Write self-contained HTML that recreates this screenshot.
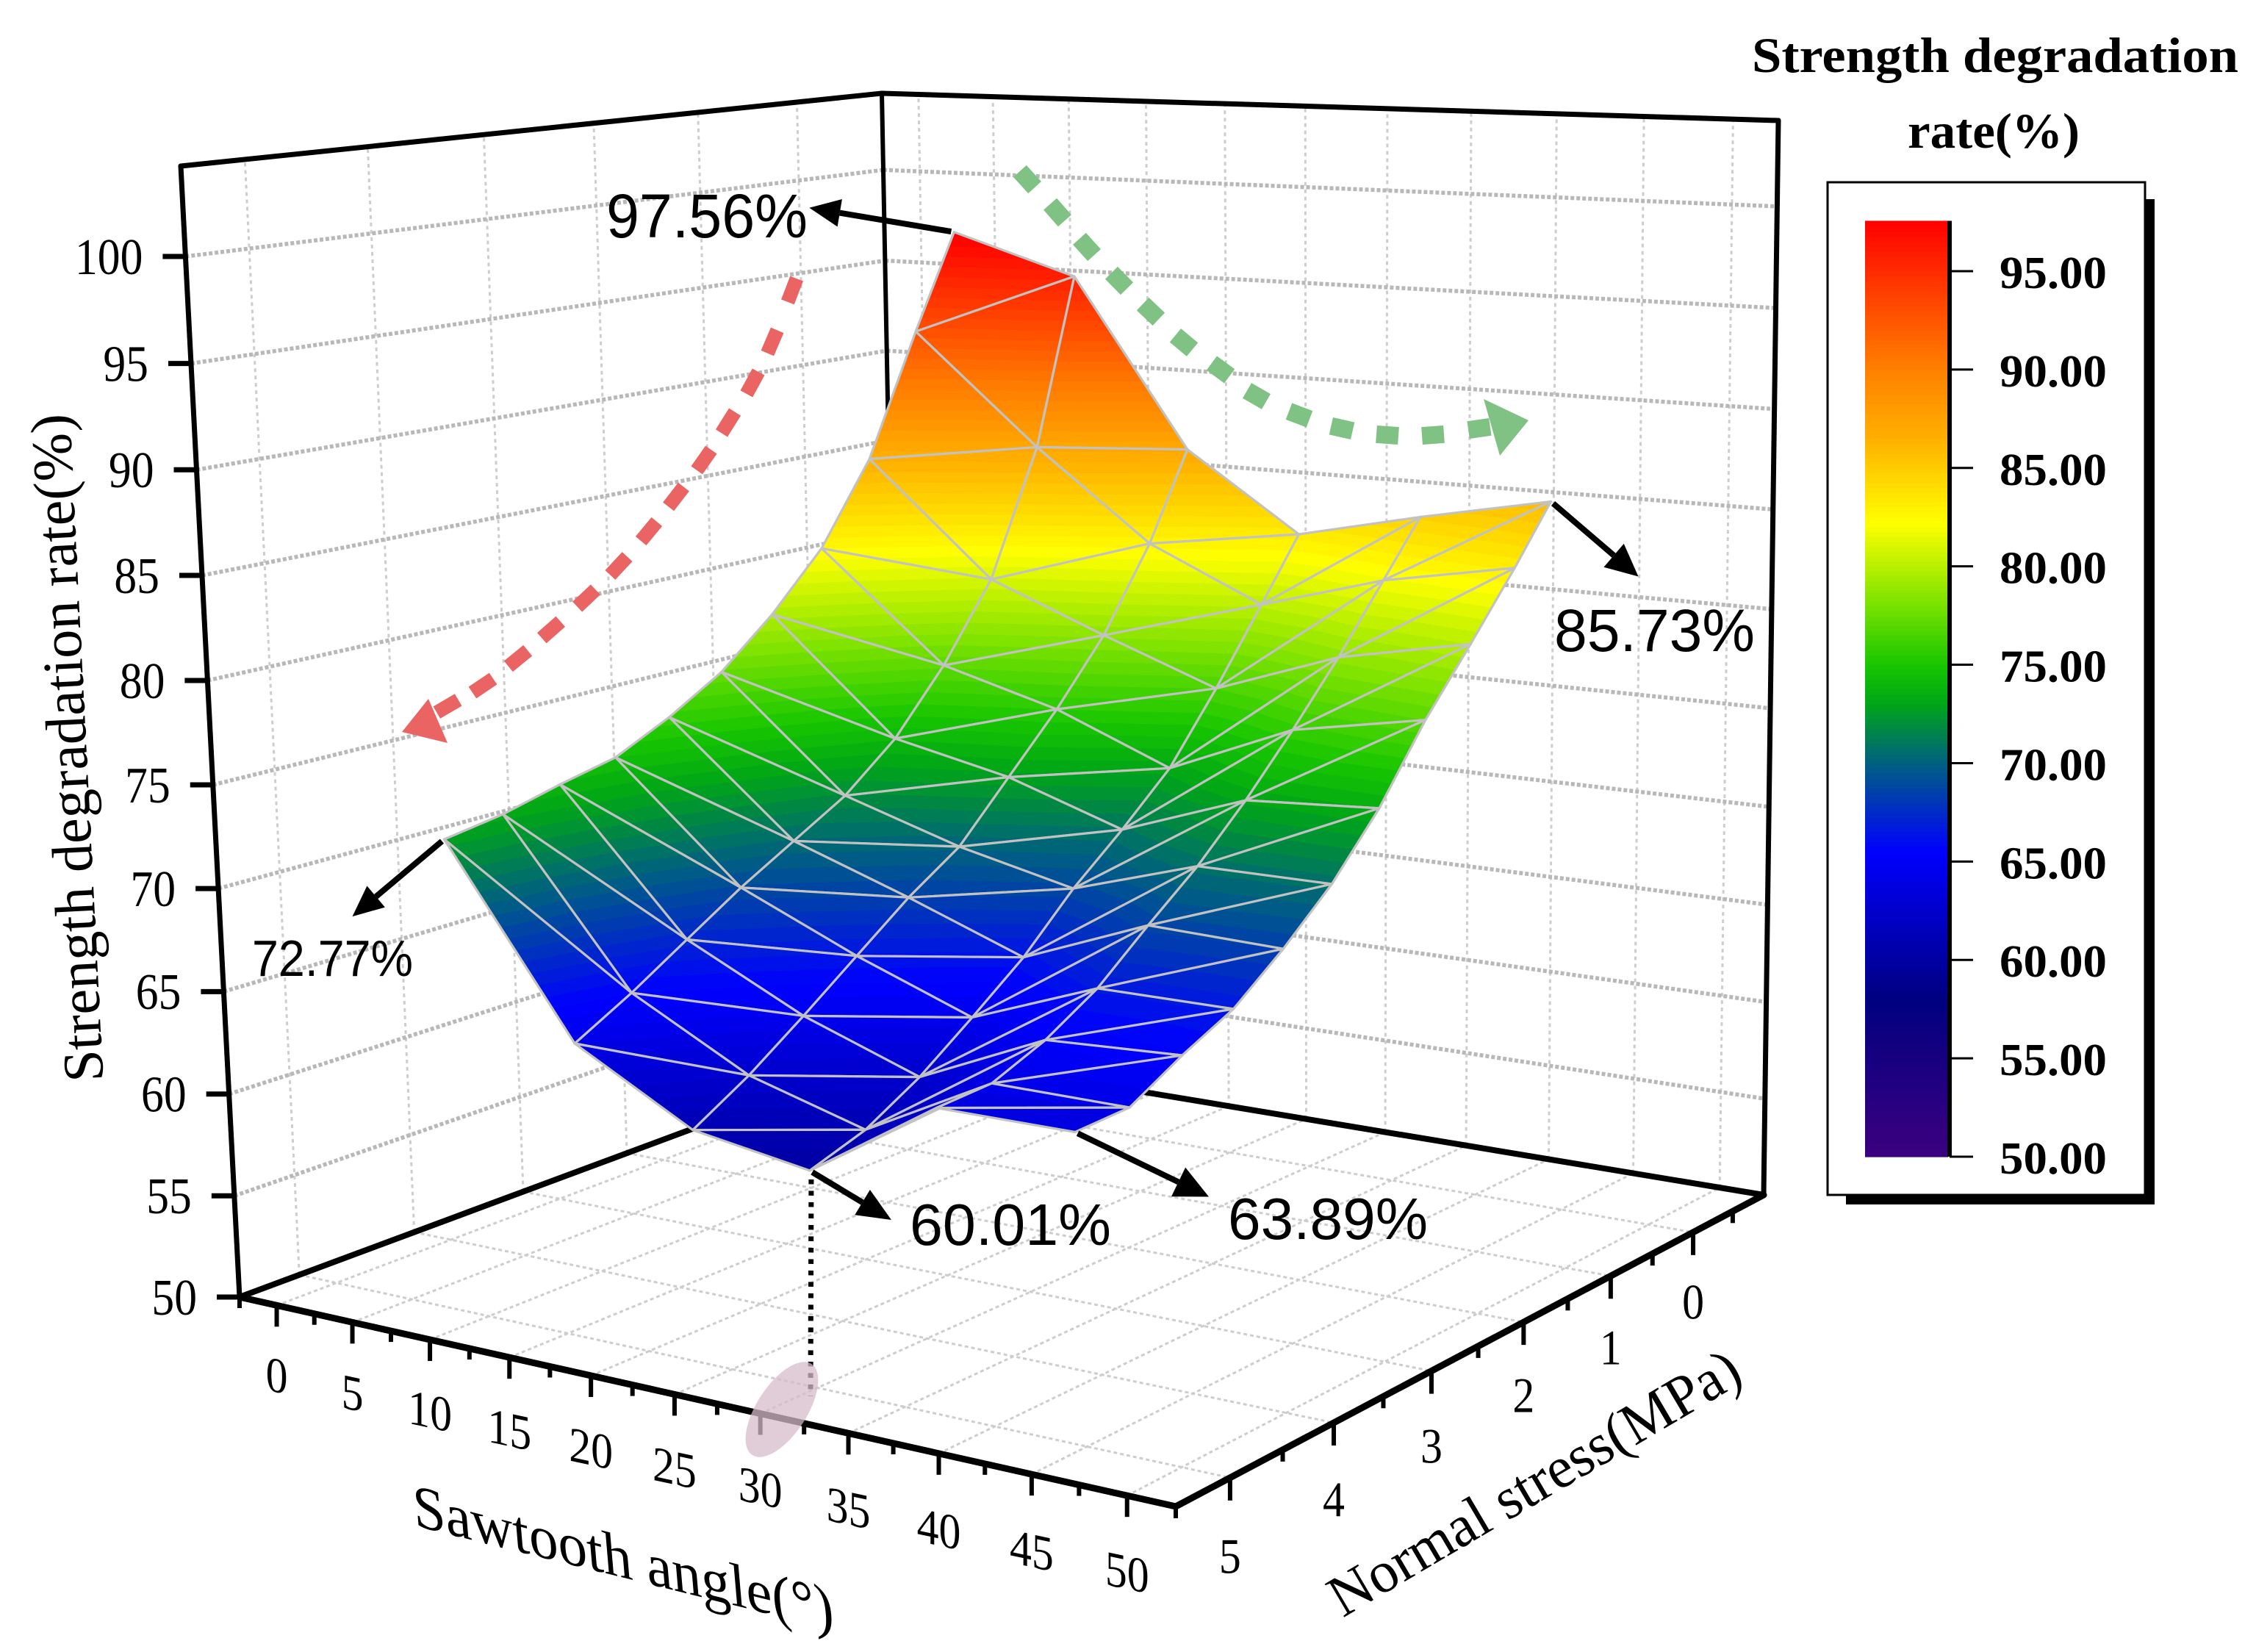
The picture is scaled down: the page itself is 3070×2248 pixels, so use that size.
<!DOCTYPE html>
<html lang="en">
<head>
<meta charset="utf-8">
<title>Strength degradation rate surface</title>
<style>
html,body{margin:0;padding:0;background:#fff;width:3070px;height:2248px;overflow:hidden}
svg{display:block}
text{font-family:"Liberation Serif",serif;fill:#000}
.anno{font-family:"Liberation Sans",sans-serif}
</style>
</head>
<body>
<svg id="chart" xmlns="http://www.w3.org/2000/svg" width="3070" height="2248" viewBox="0 0 3070 2248">
  <rect x="0" y="0" width="3070" height="2248" fill="#fff"/>
  <g id="floorGrid"></g>
  <g id="wallGrid"></g>
  <g id="box"></g>
  <g id="ticks"></g>
  <g id="surface"></g>
  <g id="annotations"></g>

  <text transform="translate(91,1018) rotate(-92.9)" text-anchor="middle" dominant-baseline="central" font-size="78" textLength="910" lengthAdjust="spacingAndGlyphs">Strength degradation rate(%)</text>
  <text transform="translate(848,2120) skewY(14) skewX(5)" text-anchor="middle" dominant-baseline="central" font-size="82" textLength="572" lengthAdjust="spacingAndGlyphs">Sawtooth angle(°)</text>
  <text transform="translate(2088,2018) rotate(-30.5)" text-anchor="middle" dominant-baseline="central" font-size="80" textLength="636" lengthAdjust="spacingAndGlyphs">Normal stress(MPa)</text>

  <text class="anno" x="825" y="323" font-size="84" textLength="274" lengthAdjust="spacingAndGlyphs">97.56%</text>
  <text class="anno" x="2115" y="886" font-size="82" textLength="273" lengthAdjust="spacingAndGlyphs">85.73%</text>
  <text class="anno" x="343" y="1328" font-size="70" textLength="219" lengthAdjust="spacingAndGlyphs">72.77%</text>
  <text class="anno" x="1238" y="1694" font-size="80" textLength="274" lengthAdjust="spacingAndGlyphs">60.01%</text>
  <text class="anno" x="1671" y="1686" font-size="80" textLength="272" lengthAdjust="spacingAndGlyphs">63.89%</text>

  <text x="2384" y="98" font-size="68" font-weight="bold" textLength="662" lengthAdjust="spacingAndGlyphs">Strength degradation</text>
  <text x="2596" y="201" font-size="68" font-weight="bold" textLength="234" lengthAdjust="spacingAndGlyphs">rate(%)</text>
  <rect x="2512" y="271" width="420" height="1368" fill="#000"/>
  <rect x="2487" y="248" width="432" height="1378" fill="#fff" stroke="#000" stroke-width="3"/>
  <g id="colorbar"></g>
</svg>
<script>
/* ---------- chart data ---------- */
const angleColumns = [8.3, 16, 23, 29.8, 37, 44.5];
const stressRows = [0.08, 0.5, 1, 1.5, 2, 2.5, 3, 3.5, 4, 4.5, 5];
const ratesAngle0 = [97.7, 92.8, 86.6, 82.5, 79.7, 77.4, 75.8, 74.5, 73.9, 73.2, 72.77];
const ratesAngle1 = [95.7, 87.2, 80.9, 77.1, 74.05, 71.9, 70.4, 68.9, 67.2, 65.5, 64.0];
const ratesAngle2 = [87.1, 82.7, 78.6, 75.5, 72.8, 70.1, 68.4, 66.4, 64.4, 62.5, 60.9];
const ratesAngle3 = [83.2, 80.1, 76.5, 73.2, 70.9, 68.8, 66.3, 64.3, 62.4, 60.9, 60.01];
const ratesAngle4 = [84.6, 81.9, 78.7, 75.8, 73.1, 70.7, 68.7, 66.6, 65.1, 64.05, 63.9];
const ratesAngle5 = [85.9, 83.1, 80.0, 77.0, 73.5, 70.7, 68.5, 66.6, 65.4, 64.0, 63.89];
const rateSeries = [ratesAngle0, ratesAngle1, ratesAngle2, ratesAngle3, ratesAngle4, ratesAngle5];
const angleTicks = [0, 5, 10, 15, 20, 25, 30, 35, 40, 45, 50];
const stressTicks = [0, 1, 2, 3, 4, 5];
const rateTicks = [50, 55, 60, 65, 70, 75, 80, 85, 90, 95, 100];
const legendTicks = [50, 55, 60, 65, 70, 75, 80, 85, 90, 95];
const colorValues = [50, 58, 65.5, 70, 73, 75, 78, 82.2, 86.5, 90, 97.56];
const colorReds = [60, 0, 0, 0, 0, 24, 120, 255, 255, 255, 255];
const colorGreens = [0, 0, 0, 96, 165, 198, 225, 255, 176, 128, 0];
const colorBlues = [128, 128, 255, 128, 24, 0, 0, 0, 0, 0, 0];

/* ---------- axis functions ---------- */
const angleMin = -2.5, angleMax = 52.5, stressMin = -0.9, stressMax = 5.5, rateMin = 50, rateMax = 104.2;
const PERSPECTIVE_K = 0.967;
const NS = 'http://www.w3.org/2000/svg';

function homography(p00, p10, p11, p01) {
  const dx1 = p10[0] - p11[0], dx2 = p01[0] - p11[0], sx = p00[0] - p10[0] + p11[0] - p01[0];
  const dy1 = p10[1] - p11[1], dy2 = p01[1] - p11[1], sy = p00[1] - p10[1] + p11[1] - p01[1];
  const den = dx1 * dy2 - dx2 * dy1;
  const g = (sx * dy2 - dx2 * sy) / den, h = (dx1 * sy - sx * dy1) / den;
  const a = p10[0] - p00[0] + g * p10[0], b = p01[0] - p00[0] + h * p01[0], c = p00[0];
  const d = p10[1] - p00[1] + g * p10[1], e = p01[1] - p00[1] + h * p01[1], f = p00[1];
  return function (X, Y) {
    const w = g * X + h * Y + 1;
    return [(a * X + b * Y + c) / w, (d * X + e * Y + f) / w];
  };
}
const floorMap = homography([1225, 1431], [2400, 1626], [1600, 2050], [326, 1765]);
const topMap = homography([1200, 127], [2420, 164], [1592, 285], [246, 226]);

function rateFraction(z) {
  const t = (z - rateMin) / (rateMax - rateMin);
  return t * PERSPECTIVE_K / ((1 - t) + t * PERSPECTIVE_K);
}
function project(angle, stress, rate) {
  const X = (angle - angleMin) / (angleMax - angleMin);
  const Y = (stress - stressMin) / (stressMax - stressMin);
  const p0 = floorMap(X, Y), p1 = topMap(X, Y), w = rateFraction(rate);
  return [p0[0] + (p1[0] - p0[0]) * w, p0[1] + (p1[1] - p0[1]) * w];
}
function depthOf(angle, stress) {
  const X = (angle - angleMin) / (angleMax - angleMin);
  const Y = (stress - stressMin) / (stressMax - stressMin);
  return 0.1125 * X + 0.1484 * Y;
}
function rateColor(v) {
  let i = 0;
  if (v <= colorValues[0]) return 'rgb(' + colorReds[0] + ',' + colorGreens[0] + ',' + colorBlues[0] + ')';
  while (i < colorValues.length - 2 && v > colorValues[i + 1]) i++;
  const t = Math.min(1, (v - colorValues[i]) / (colorValues[i + 1] - colorValues[i]));
  const r = Math.round(colorReds[i] + (colorReds[i + 1] - colorReds[i]) * t);
  const g = Math.round(colorGreens[i] + (colorGreens[i + 1] - colorGreens[i]) * t);
  const b = Math.round(colorBlues[i] + (colorBlues[i + 1] - colorBlues[i]) * t);
  return 'rgb(' + r + ',' + g + ',' + b + ')';
}
function legendY(v) { return 1574 - (v - 50) * (1574 - 369) / 45; }

function make(tag, attrs) {
  const el = document.createElementNS(NS, tag);
  for (const k in attrs) el.setAttribute(k, attrs[k]);
  return el;
}
function seg(parent, p, q, stroke, width, dash) {
  const attrs = { x1: p[0], y1: p[1], x2: q[0], y2: q[1], stroke: stroke, 'stroke-width': width };
  if (dash) attrs['stroke-dasharray'] = dash;
  const el = make('line', attrs);
  parent.appendChild(el);
  return el;
}

/* ---------- grids ---------- */
const floorGrid = document.getElementById('floorGrid');
const wallGrid = document.getElementById('wallGrid');
angleTicks.forEach(function (a) {
  const f = seg(floorGrid, project(a, stressMax, rateMin), project(a, stressMin, rateMin), '#cdcdcd', 3, '5 4');
  
  
  const w = seg(wallGrid, project(a, stressMin, rateMin), project(a, stressMin, rateMax), '#cdcdcd', 3, '5 5');
  
  
});
stressTicks.forEach(function (s) {
  const f = seg(floorGrid, project(angleMin, s, rateMin), project(angleMax, s, rateMin), '#cdcdcd', 3, '5 4');
  
  
  const w = seg(wallGrid, project(angleMin, s, rateMin), project(angleMin, s, rateMax), '#cdcdcd', 3, '5 5');
  
  
});
rateTicks.forEach(function (z) {
  if (z === rateMin) return;
  const l = seg(wallGrid, project(angleMin, stressMax, z), project(angleMin, stressMin, z), '#b8b8b8', 5.5, '5 3');
  
  
  const b = seg(wallGrid, project(angleMin, stressMin, z), project(angleMax, stressMin, z), '#b8b8b8', 5.5, '5 3');
  
  
});

/* ---------- box ---------- */
const box = document.getElementById('box');
function boxEdge(a1, s1, z1, a2, s2, z2, width, name) {
  const el = seg(box, project(a1, s1, z1), project(a2, s2, z2), '#000', width);
  el.setAttribute('stroke-linecap', 'round');
  
  
}
boxEdge(angleMin, stressMax, rateMin, angleMin, stressMin, rateMin, 8, 'floor-edge-left');
boxEdge(angleMin, stressMin, rateMin, angleMax, stressMin, rateMin, 8, 'floor-edge-back');
boxEdge(angleMin, stressMin, rateMin, angleMin, stressMin, rateMax, 6, 'back-corner-edge');
boxEdge(angleMin, stressMax, rateMin, angleMin, stressMax, rateMax, 7, 'z-axis-line');
boxEdge(angleMax, stressMin, rateMin, angleMax, stressMin, rateMax, 7, 'right-wall-edge');
boxEdge(angleMin, stressMax, rateMax, angleMin, stressMin, rateMax, 7, 'top-edge-left');
boxEdge(angleMin, stressMin, rateMax, angleMax, stressMin, rateMax, 7, 'top-edge-back');
boxEdge(angleMin, stressMax, rateMin, angleMax, stressMax, rateMin, 9, 'x-axis-line');
boxEdge(angleMax, stressMax, rateMin, angleMax, stressMin, rateMin, 9, 'y-axis-line');

/* ---------- ticks and tick labels ---------- */
const ticksG = document.getElementById('ticks');
function tickLabel(txt, x, y, size, anchor, extra) {
  const t = make('text', { 'font-size': size, 'text-anchor': anchor, 'dominant-baseline': 'central' });
  t.setAttribute('transform', 'translate(' + x + ',' + y + ')' + (extra || ''));
  t.textContent = txt;
  ticksG.appendChild(t);
  return t;
}
rateTicks.forEach(function (z) {
  const p = project(angleMin, stressMax, z);
  const tk = seg(ticksG, [p[0] - 31, p[1]], p, '#000', 7);
  
  
  const lb = tickLabel(String(z), p[0] - 58, p[1] + 1, 70, 'end', ' scale(0.88,1)');
  
  
});
angleTicks.forEach(function (a) {
  const p = project(a, stressMax, rateMin);
  const tk = seg(ticksG, p, [p[0], p[1] + 29], '#000', 6);
  
  
  const lb = tickLabel(String(a), p[0], p[1] + 95 + a * 0.18, 68, 'middle', ' skewY(12) scale(0.88,1)');
  
  
  const m = project(a - 2.5, stressMax, rateMin);
  const mk = seg(ticksG, m, [m[0], m[1] + 15], '#000', 6);
  
  
  if (a === 50) {
    const e = project(a + 2.5, stressMax, rateMin);
    const ek = seg(ticksG, e, [e[0], e[1] + 15], '#000', 6);
    
    
  }
});
stressTicks.forEach(function (s) {
  const p = project(angleMax, s, rateMin);
  const tk = seg(ticksG, p, [p[0], p[1] + 31], '#000', 6);
  
  
  const lb = tickLabel(String(s), p[0], p[1] + 95 + s * 2.4, 68, 'middle', ' scale(0.88,1)');
  
  
  const m1 = project(angleMax, s + 0.5, rateMin);
  const mk = seg(ticksG, m1, [m1[0], m1[1] + 16], '#000', 6);
  
  
  if (s === 0) {
    const m2 = project(angleMax, s - 0.5, rateMin);
    const mk2 = seg(ticksG, m2, [m2[0], m2[1] + 16], '#000', 6);
    
    
  }
});

/* ---------- surface ---------- */
const surfaceG = document.getElementById('surface');
function vertex(c, r) {
  return { p: project(angleColumns[c], stressRows[r], rateSeries[c][r]), z: rateSeries[c][r], d: depthOf(angleColumns[c], stressRows[r]) };
}
const triangles = [];
for (let c = 0; c < angleColumns.length - 1; c++) {
  for (let r = 0; r < stressRows.length - 1; r++) {
    const a = vertex(c, r), b = vertex(c + 1, r), d = vertex(c, r + 1), e = vertex(c + 1, r + 1);
    triangles.push({ v: [a, b, d], depth: (a.d + b.d + d.d) / 3 });
    triangles.push({ v: [b, e, d], depth: (b.d + e.d + d.d) / 3 });
  }
}
triangles.sort(function (m, n) { return m.depth - n.depth; });

function clipAbove(poly, level, keepAbove) {
  const out = [];
  for (let i = 0; i < poly.length; i++) {
    const A = poly[i], B = poly[(i + 1) % poly.length];
    const inA = keepAbove ? A.z >= level : A.z <= level;
    const inB = keepAbove ? B.z >= level : B.z <= level;
    if (inA) out.push(A);
    if (inA !== inB) {
      const t = (level - A.z) / (B.z - A.z);
      out.push({ z: level, p: [A.p[0] + (B.p[0] - A.p[0]) * t, A.p[1] + (B.p[1] - A.p[1]) * t] });
    }
  }
  return out;
}
const BAND = 0.5;
triangles.forEach(function (tri) {
  const zs = tri.v.map(function (q) { return q.z; });
  const lo = Math.floor(Math.min.apply(null, zs) / BAND) * BAND;
  const hi = Math.max.apply(null, zs);
  for (let level = lo; level < hi; level += BAND) {
    let poly = clipAbove(tri.v, level, true);
    if (poly.length < 3) continue;
    poly = clipAbove(poly, level + BAND, false);
    if (poly.length < 3) continue;
    const col = rateColor(level + BAND / 2);
    const pts = poly.map(function (q) { return q.p[0].toFixed(1) + ',' + q.p[1].toFixed(1); }).join(' ');
    const band = make('polygon', { points: pts, fill: col, stroke: col, 'stroke-width': 1 });
    
    
    surfaceG.appendChild(band);
  }
  const outline = make('polygon', {
    points: tri.v.map(function (q) { return q.p[0].toFixed(1) + ',' + q.p[1].toFixed(1); }).join(' '),
    fill: 'none', stroke: '#c2c2c2', 'stroke-width': 3.2, 'stroke-linejoin': 'round'
  });
  
  
  surfaceG.appendChild(outline);
});

/* ---------- annotations ---------- */
const annG = document.getElementById('annotations');
function arrow(c, r, dx, dy, headLen, headWidth, name) {
  const s = project(angleColumns[c], stressRows[r], rateSeries[c][r]);
  const tip = [s[0] + dx, s[1] + dy];
  const len = Math.hypot(dx, dy), ux = dx / len, uy = dy / len;
  const base = [tip[0] - ux * headLen, tip[1] - uy * headLen];
  const ln = seg(annG, [s[0] + ux * 4, s[1] + uy * 4], base, '#000', 8);
  
  
  const hw = headWidth / 2;
  const head = make('polygon', {
    points: tip[0] + ',' + tip[1] + ' ' + (base[0] - uy * hw) + ',' + (base[1] + ux * hw) + ' ' + (base[0] + uy * hw) + ',' + (base[1] - ux * hw),
    fill: '#000'
  });
  
  
  annG.appendChild(head);
}
arrow(0, 0, -197, -33, 42, 38, 'arrow-peak');
arrow(5, 0, 119, 102, 44, 42, 'arrow-85-73');
arrow(0, 10, -125, 105, 42, 38, 'arrow-72-77');
arrow(3, 10, 111, 67, 46, 40, 'arrow-60-01');
arrow(5, 10, 182, 88, 46, 44, 'arrow-63-89');

const dotBase = project(angleColumns[3], stressRows[10], rateSeries[3][10]);
const dotted = seg(annG, [dotBase[0] + 2, dotBase[1] + 12], [1103, 1900], '#000', 7, '6.5 9');



const ell = make('ellipse', { cx: 1064, cy: 1918, rx: 74, ry: 34, fill: '#d6bbcb', 'fill-opacity': 0.74, transform: 'rotate(-57 1064 1918)' });


annG.appendChild(ell);

const redDashes = [[1078,395],[1051,465],[1024,521],[991,575],[958,626],[920,676],[883,723],[842,770],[798,814],[750,857],[705,896],[657,933],[609,961]];
const greenDashes = [[1398,244],[1439,289],[1479,336],[1523,382],[1566,424],[1611,466],[1661,503],[1710,539],[1768,565],[1826,583],[1888,592],[1950,592],[2013,583]];
function dashTrail(list, color, len, width, name) {
  list.forEach(function (pt, i) {
    const a = list[Math.max(0, i - 1)], b = list[Math.min(list.length - 1, i + 1)];
    const d = Math.hypot(b[0] - a[0], b[1] - a[1]), ux = (b[0] - a[0]) / d, uy = (b[1] - a[1]) / d;
    const l = seg(annG, [pt[0] - ux * len / 2, pt[1] - uy * len / 2], [pt[0] + ux * len / 2, pt[1] + uy * len / 2], color, width);
    
    
  });
}
dashTrail(redDashes, '#ea6464', 34, 19, 'red-trend-dash');
dashTrail(greenDashes, '#80c184', 30, 24, 'green-trend-dash');
const redHead = make('polygon', { points: '547,996 583,951 609,1011', fill: '#ea6464' });


annG.appendChild(redHead);
const greenHead = make('polygon', { points: '2080,572 2019,543 2041,620', fill: '#80c184' });


annG.appendChild(greenHead);

/* ---------- colorbar ---------- */
const bar = document.getElementById('colorbar');
for (let v = 50; v < 97.56; v += 0.25) {
  const top = legendY(Math.min(97.56, v + 0.25));
  const strip = make('rect', { x: 2538, y: top, width: 113, height: legendY(v) - top + 0.6, fill: rateColor(v + 0.125) });
  
  
  bar.appendChild(strip);
}
const barAxis = seg(bar, [2653, legendY(97.56)], [2653, legendY(50)], '#000', 6);


legendTicks.forEach(function (v) {
  const y = legendY(v);
  const tk = seg(bar, [2653, y], [2685, y], '#000', 3);
  
  
  const t = make('text', { x: 2721, y: y + 3, 'font-size': 62, 'font-weight': 'bold', 'dominant-baseline': 'central', textLength: 146, lengthAdjust: 'spacingAndGlyphs' });
  t.textContent = v.toFixed(2);
  
  
  bar.appendChild(t);
});
</script>
</body>
</html>
